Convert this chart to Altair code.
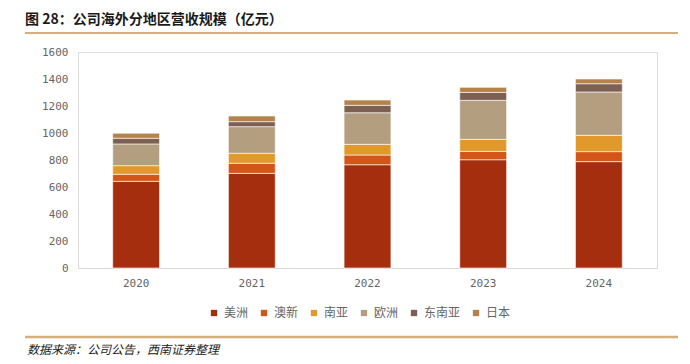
import altair as alt
import pandas as pd

years = ["2020", "2021", "2022", "2023", "2024"]
regions = ["美洲", "澳新", "南亚", "欧洲", "东南亚", "日本"]
colors = ["#A52E0F", "#D35518", "#E0992A", "#B39E7F", "#7D5F53", "#B5824B"]
values = {
    "美洲": [642, 701, 765, 802, 788],
    "澳新": [52, 75, 72, 62, 74],
    "南亚": [64, 74, 79, 89, 121],
    "欧洲": [161, 197, 234, 289, 321],
    "东南亚": [42, 37, 55, 59, 61],
    "日本": [37, 42, 39, 37, 35],
}
y_ticks = [0, 200, 400, 600, 800, 1000, 1200, 1400, 1600]
title_text = "图 28：公司海外分地区营收规模（亿元）"
source_text = "数据来源：公司公告，西南证券整理"

rows = []
for ri, r in enumerate(regions):
    for yi, y in enumerate(years):
        rows.append({"year": y, "region": r, "value": values[r][yi], "order": ri})
df = pd.DataFrame(rows)

W, H = 579, 216
LEFT, TOP = 70, 44

bars = alt.Chart(df).mark_bar(stroke="white", strokeWidth=0.6).encode(
    x=alt.X("year:N", sort=years, title=None,
            scale=alt.Scale(paddingInner=0.595, paddingOuter=0.3),
            axis=alt.Axis(labelAngle=0, labelFont="DejaVu Sans Mono", labelFontSize=11,
                          labelColor="#666666", ticks=False, domainColor="#D9D9D9",
                          domainWidth=1, labelPadding=9)),
    y=alt.Y("value:Q", title=None, stack="zero",
            scale=alt.Scale(domain=[0, 1600], nice=False),
            axis=alt.Axis(values=y_ticks, format="d", labelFont="DejaVu Sans Mono",
                          labelFontSize=11, labelColor="#666666", ticks=False,
                          domain=False, grid=False, labelPadding=10)),
    color=alt.Color("region:N", sort=regions,
                    scale=alt.Scale(domain=regions, range=colors),
                    legend=alt.Legend(orient="none", direction="horizontal",
                                      legendX=130, legendY=H + 39, title=None,
                                      symbolType="square", symbolSize=40,
                                      labelFont="Noto Sans CJK SC", labelFontSize=12,
                                      labelColor="#666666", columnPadding=9,
                                      symbolStrokeWidth=0)),
    order=alt.Order("order:Q", sort="ascending"),
)

title = alt.Chart(pd.DataFrame({"t": [title_text]})).mark_text(
    align="left", baseline="middle", font="Noto Sans CJK SC", fontSize=14,
    fontWeight="bold", color="#1a1a1a"
).encode(x=alt.value(25 - 8 - LEFT), y=alt.value(20 - 8 - TOP), text="t:N")

top_line = alt.Chart(pd.DataFrame({"a": [0]})).mark_rule(
    color="#D3B07C", strokeWidth=2
).encode(x=alt.value(25 - 8 - LEFT), x2=alt.value(678 - 8 - LEFT), y=alt.value(33 - 8 - TOP))

bot_line = alt.Chart(pd.DataFrame({"a": [0]})).mark_rule(
    color="#D3B07C", strokeWidth=2.5
).encode(x=alt.value(25 - 8 - LEFT), x2=alt.value(678 - 8 - LEFT), y=alt.value(337 - 8 - TOP))

source = alt.Chart(pd.DataFrame({"t": [source_text]})).mark_text(
    align="left", baseline="middle", font="Noto Sans CJK SC", fontSize=12,
    fontStyle="italic", color="#222222"
).encode(x=alt.value(27 - 8 - LEFT), y=alt.value(350 - 8 - TOP), text="t:N")

chart = alt.layer(bars, title, top_line, bot_line, source).properties(
    width=W, height=H,
    autosize=alt.AutoSizeParams(type="none"),
    padding={"left": LEFT, "top": TOP, "right": 25, "bottom": 92},
).configure_view(stroke=None).configure(background="white")

chart.save("out.html", embed_options={"renderer": "svg", "actions": False})
